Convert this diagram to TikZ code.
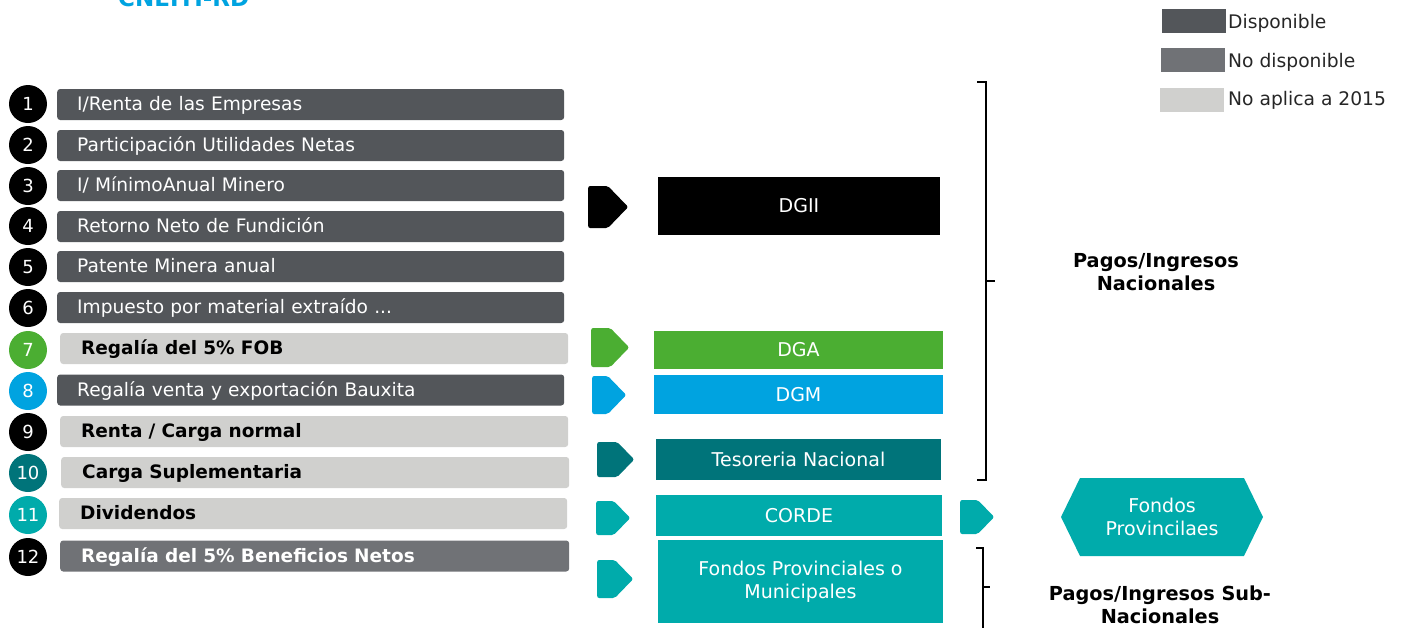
\documentclass[tikz,border=0pt]{standalone}
\usepackage{fontspec}
\setmainfont{DejaVu Sans}
\usetikzlibrary{shapes.symbols}
\definecolor{cdark}{HTML}{53565A}
\definecolor{cmid}{HTML}{707276}
\definecolor{clight}{HTML}{D0D0CE}
\definecolor{cgreen}{HTML}{4BAE32}
\definecolor{cblue}{HTML}{00A3E0}
\definecolor{cteal}{HTML}{00747A}
\definecolor{caqua}{HTML}{00ABAB}
\definecolor{ctitle}{HTML}{00A3E0}
\begin{document}
\begin{tikzpicture}[x=1pt,y=-1pt,
  numc/.style={circle,minimum size=38pt,inner sep=0pt,text=white,font=\fontsize{18}{18}\selectfont},
  bardark/.style={rectangle,rounded corners=3pt,fill=cdark,text=white,anchor=west,minimum height=31pt,inner ysep=0pt,inner xsep=20pt,text width=467pt,align=left,text depth=2pt,font=\fontsize{18.6}{18.6}\selectfont},
  barmid/.style={bardark,fill=cmid,inner xsep=21pt,text width=467pt,font=\fontsize{18.5}{18.5}\selectfont\bfseries},
  barlight/.style={bardark,fill=clight,text=black,inner xsep=21pt,text width=466pt,font=\fontsize{18.5}{18.5}\selectfont\bfseries},
  chev/.style={signal,signal to=east,signal pointer angle=92,inner sep=0pt,rounded corners=2pt,anchor=west},
  box/.style={rectangle,text=white,inner sep=0pt,align=center,font=\fontsize{19}{23}\selectfont},
  lab/.style={align=center,font=\fontsize{19.3}{23}\selectfont\bfseries},
  legbox/.style={rectangle,minimum width=64pt,minimum height=24pt,inner sep=0pt},
  legtxt/.style={anchor=west,inner sep=0pt,text=black!85,font=\fontsize{18.7}{18.7}\selectfont},
  brk/.style={line width=1.6pt,black}
]
\useasboundingbox (0,0) rectangle (1401,627);
\clip (0,0) rectangle (1401,627);
% title (cut off at top)
\node[anchor=base west,inner sep=0pt,text=ctitle,font=\fontsize{23}{23}\selectfont\bfseries] (title) at (118,6) {CNEITI-RD};
% legend
\node[legbox,fill=cdark] (l1) at (1194,21) {};
\node[legbox,fill=cmid] (l2) at (1193,60) {};
\node[legbox,fill=clight] (l3) at (1192,100) {};
\node[legtxt] (t1) at (1228,23) {Disponible};
\node[legtxt] (t2) at (1228,62) {No disponible};
\node[legtxt] (t3) at (1228,100) {No aplica a 2015};
% numbered circles
\node[numc,fill=black] (c1) at (28,104) {1};
\node[numc,fill=black] (c2) at (28,145) {2};
\node[numc,fill=black] (c3) at (28,186) {3};
\node[numc,fill=black] (c4) at (28,226) {4};
\node[numc,fill=black] (c5) at (28,267) {5};
\node[numc,fill=black] (c6) at (28,308) {6};
\node[numc,fill=cgreen] (c7) at (28,350) {7};
\node[numc,fill=cblue] (c8) at (28,391) {8};
\node[numc,fill=black] (c9) at (28,432) {9};
\node[numc,fill=cteal] (c10) at (28,473) {10};
\node[numc,fill=caqua] (c11) at (28,515) {11};
\node[numc,fill=black] (c12) at (28,557) {12};
% bars
\node[bardark] (b1) at (57,104.5) {I/Renta de las Empresas};
\node[bardark] (b2) at (57,145.5) {Participación Utilidades Netas};
\node[bardark] (b3) at (57,185.5) {I/ MínimoAnual Minero};
\node[bardark] (b4) at (57,226.5) {Retorno Neto de Fundición};
\node[bardark] (b5) at (57,266.5) {Patente Minera anual};
\node[bardark] (b6) at (57,307.5) {Impuesto por material extraído ...};
\node[barlight] (b7) at (60,348.5) {Regalía del 5\% FOB};
\node[bardark] (b8) at (57,390) {Regalía venta y exportación Bauxita};
\node[barlight] (b9) at (60,431.5) {Renta / Carga normal};
\node[barlight] (b10) at (61,472.5) {Carga Suplementaria};
\node[barlight] (b11) at (59,513.5) {Dividendos};
\node[barmid] (b12) at (60,556) {Regalía del 5\% Beneficios Netos};
% chevrons
\node[chev,fill=black,minimum width=40pt,minimum height=42pt] (a1) at (588,207) {};
\node[chev,fill=cgreen,minimum width=38pt,minimum height=39pt] (a7) at (591,347.5) {};
\node[chev,fill=cblue,minimum width=34pt,minimum height=38pt] (a8) at (592,395) {};
\node[chev,fill=cteal,minimum width=37pt,minimum height=35pt] (a10) at (597,459.5) {};
\node[chev,fill=caqua,minimum width=34pt,minimum height=34pt] (a11) at (596,518) {};
\node[chev,fill=caqua,minimum width=36pt,minimum height=38pt] (a12) at (597,579) {};
\node[chev,fill=caqua,minimum width=34pt,minimum height=34pt] (a13) at (960,517) {};
% destination boxes
\node[box,fill=black,minimum width=282pt,minimum height=58pt] (dgii) at (799,206) {DGII};
\node[box,fill=cgreen,minimum width=289pt,minimum height=38pt] (dga) at (798.5,350) {DGA};
\node[box,fill=cblue,minimum width=289pt,minimum height=39pt] (dgm) at (798.5,394.5) {DGM};
\node[box,fill=cteal,minimum width=285pt,minimum height=41pt] (tes) at (798.5,459.5) {Tesoreria Nacional};
\node[box,fill=caqua,minimum width=286pt,minimum height=41pt] (corde) at (799,515.5) {CORDE};
\node[box,fill=caqua,minimum width=285pt,minimum height=83pt] (fpm) at (800.5,581.5) {Fondos Provinciales o\\Municipales};
\node[box,signal,signal to=west and east,signal pointer angle=128,fill=caqua,minimum width=202pt,minimum height=78pt] (fp) at (1162,517) {Fondos\\Provincilaes};
% brackets
\draw[brk] (977,82) -- (986,82) -- (986,480) -- (977,480);
\draw[brk] (986,281) -- (995,281);
\draw[brk] (976,548) -- (983,548) -- (983,640);
\draw[brk] (983,587) -- (990,587);
% labels
\node[lab] (nac) at (1156,272) {Pagos/Ingresos\\Nacionales};
\node[lab] (sub) at (1160,605) {Pagos/Ingresos Sub-\\Nacionales};
\end{tikzpicture}
\end{document}
